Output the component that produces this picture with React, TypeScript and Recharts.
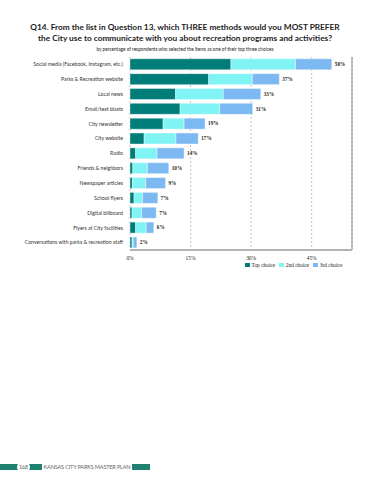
import React from "react";
import {
  BarChart,
  Bar,
  XAxis,
  YAxis,
  CartesianGrid,
  ReferenceLine,
  LabelList,
} from "recharts";

const categories = [
  "Social media (Facebook, Instagram, etc.)",
  "Parks & Recreation website",
  "Local news",
  "Email/text blasts",
  "City newsletter",
  "City website",
  "Radio",
  "Friends & neighbors",
  "Newspaper articles",
  "School flyers",
  "Digital billboard",
  "Flyers at City facilities",
  "Conversations with parks & recreation staff",
];
const topChoice = [25, 19.5, 11.3, 12.4, 8.2, 3.5, 1.4, 0.7, 0.6, 1.0, 0.5, 1.4, 0.5];
const secondChoice = [16, 10.8, 11.8, 9.8, 5.2, 7.9, 5.3, 3.6, 3.3, 2.1, 2.4, 2.6, 0.3];
const thirdChoice = [9, 6.7, 9.3, 8.2, 5.2, 5.5, 6.7, 5.3, 4.9, 3.8, 3.6, 1.9, 0.9];
const totals = [50, 37, 33, 31, 19, 17, 14, 10, 9, 7, 7, 6, 2];
const xTicks = [0, 15, 30, 45];
const seriesNames = ["Top choice", "2nd choice", "3rd choice"];
const seriesColors = ["#007d78", "#80f4f4", "#7cb9f2"];

const data = categories.map((name, i) => ({
  name,
  top: topChoice[i],
  second: secondChoice[i],
  third: thirdChoice[i],
  total: totals[i],
}));

const sans = "Lato, 'Open Sans', sans-serif";
const serif = "'Liberation Serif', 'DejaVu Serif', serif";

const TotalLabel = (props: any) => {
  const { x, y, width, height, index } = props;
  return (
    <text
      x={x + width + 3}
      y={y + height / 2}
      dy="0.35em"
      fontSize={5.2}
      fontWeight="bold"
      fontFamily={serif}
      fill="#222"
    >
      {totals[index]}%
    </text>
  );
};

const CategoryTick = (props: any) => {
  const { x, y, payload } = props;
  return (
    <text
      x={x}
      y={y}
      dy="0.35em"
      textAnchor="end"
      fontSize={5.2}
      fontFamily={sans}
      fill="#333"
    >
      {payload.value}
    </text>
  );
};

export default function App() {
  return (
    <div
      style={{
        position: "absolute",
        left: 0,
        top: 0,
        width: 370,
        height: 480,
        background: "#fff",
        overflow: "hidden",
      }}
    >
      <div
        style={{
          position: "absolute",
          top: 22,
          left: 0,
          width: 370,
          textAlign: "center",
          fontFamily: sans,
          fontWeight: 700,
          fontSize: 8.3,
          lineHeight: "11px",
          color: "#222",
        }}
      >
        Q14. From the list in Question 13, which THREE methods would you MOST PREFER
        <br />
        the City use to communicate with you about recreation programs and activities?
      </div>
      <div
        style={{
          position: "absolute",
          top: 46,
          left: 0,
          width: 370,
          textAlign: "center",
          fontFamily: sans,
          fontSize: 4.7,
          color: "#222",
        }}
      >
        by percentage of respondents who selected the items as one of their top three choices
      </div>

      <div style={{ position: "absolute", top: 50, left: 0 }}>
        <BarChart
          width={370}
          height={215}
          data={data}
          layout="vertical"
          margin={{ top: 7, right: 18, bottom: 0, left: 0 }}
          barCategoryGap="12%"
        >
          <CartesianGrid
            horizontal={false}
            strokeDasharray="2 2"
            stroke="#9a9a9a"
            strokeWidth={0.6}
          />
          <XAxis
            type="number"
            domain={[0, 55]}
            ticks={xTicks}
            tickFormatter={(v) => `${v}%`}
            axisLine={{ stroke: "#b4b4b4", strokeWidth: 2 }}
            tickLine={false}
            tickSize={4}
            height={15}
            tick={{ fontSize: 5.4, fontFamily: serif, fill: "#222" }}
          />
          <XAxis
            xAxisId="top"
            orientation="top"
            type="number"
            domain={[0, 55]}
            height={0}
            tick={false}
            tickLine={false}
            axisLine={{ stroke: "#a0a0a0", strokeWidth: 1 }}
          />
          <YAxis
            type="category"
            dataKey="name"
            width={130}
            interval={0}
            axisLine={false}
            tickLine={false}
            tickSize={5}
            tick={<CategoryTick />}
          />
          <ReferenceLine x={55} stroke="#8a8a8a" strokeWidth={1} />
          <Bar
            dataKey="top"
            stackId="a"
            fill={seriesColors[0]}
            stroke="#fff"
            strokeWidth={0.4}
            isAnimationActive={false}
          />
          <Bar
            dataKey="second"
            stackId="a"
            fill={seriesColors[1]}
            stroke="#fff"
            strokeWidth={0.4}
            isAnimationActive={false}
          />
          <Bar
            dataKey="third"
            stackId="a"
            fill={seriesColors[2]}
            stroke="#fff"
            strokeWidth={0.4}
            isAnimationActive={false}
          >
            <LabelList dataKey="total" content={<TotalLabel />} />
          </Bar>
        </BarChart>
      </div>

      <div
        style={{
          position: "absolute",
          top: 262,
          left: 245,
          display: "flex",
          gap: 4,
          fontFamily: serif,
          fontSize: 5.4,
          color: "#222",
          whiteSpace: "nowrap",
        }}
      >
        {seriesNames.map((n, i) => (
          <div key={n} style={{ display: "flex", alignItems: "center", gap: 1.5 }}>
            <span
              style={{
                display: "inline-block",
                width: 5,
                height: 4,
                background: seriesColors[i],
              }}
            />
            {n}
          </div>
        ))}
      </div>

      <div
        style={{
          position: "absolute",
          top: 464,
          left: 0,
          width: 150,
          height: 6,
          background: "#1f8170",
        }}
      />
      <div
        style={{
          position: "absolute",
          top: 462,
          left: 17,
          width: 13,
          height: 10,
          borderRadius: 5,
          background: "#fff",
          fontFamily: sans,
          fontSize: 5,
          lineHeight: "10px",
          textAlign: "center",
          color: "#555",
        }}
      >
        168
      </div>
      <div
        style={{
          position: "absolute",
          top: 462,
          left: 42,
          width: 90,
          height: 10,
          background: "#fff",
          fontFamily: sans,
          fontSize: 5.6,
          lineHeight: "10px",
          textAlign: "center",
          color: "#666",
          whiteSpace: "nowrap",
          letterSpacing: -0.2,
        }}
      >
        KANSAS CITY PARKS MASTER PLAN
      </div>
    </div>
  );
}
